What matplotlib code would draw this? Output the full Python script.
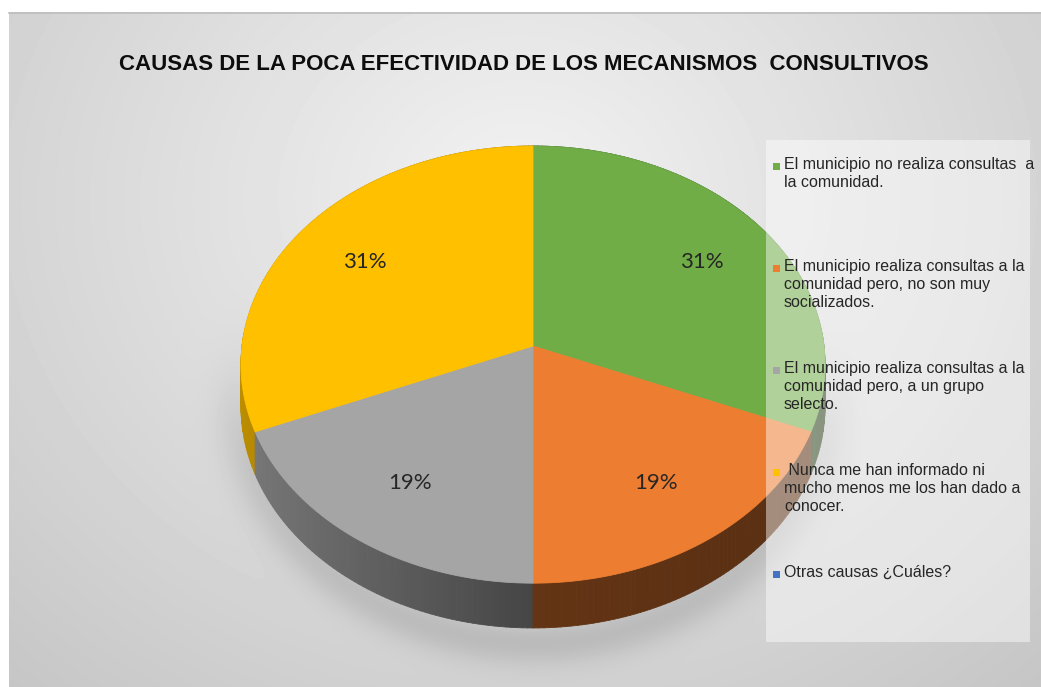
import numpy as np
import matplotlib.pyplot as plt
from matplotlib.collections import PolyCollection
from matplotlib.patches import Rectangle, Polygon
from matplotlib.colors import to_rgb

W, H = 1041, 687

# datos del grafico
titulo = "CAUSAS DE LA POCA EFECTIVIDAD DE LOS MECANISMOS  CONSULTIVOS"
categorias = [
    "El municipio no realiza consultas  a\nla comunidad.",
    "El municipio realiza consultas a la\ncomunidad pero, no son muy\nsocializados.",
    "El municipio realiza consultas a la\ncomunidad pero, a un grupo\nselecto.",
    " Nunca me han informado ni\nmucho menos me los han dado a\nconocer.",
    "Otras causas \u00bfCu\u00e1les?",
]
cantidades = [5, 3, 3, 5, 0]
colores = ["#70ad47", "#ed7d31", "#a5a5a5", "#ffc000", "#4472c4"]

# parametros de la vista en perspectiva
cx, cy = 533, 346
kx, ky = 291, 217
a = 0.085
prof = 41


def proyectar(x, y, h=0.0):
    x = np.asarray(x, dtype=float)
    z = -np.asarray(y, dtype=float)
    w = 1 - a * z
    return cx + kx * x / w, cy + (ky * z + h) / w


fig = plt.figure(figsize=(W / 100, H / 100), dpi=100)
ax = fig.add_axes([0, 0, 1, 1])
ax.set_xlim(0, W)
ax.set_ylim(H, 0)
ax.axis("off")

# fondo con degradado radial y sombra suave (solo abajo del pastel)
yy, xx = np.mgrid[12:H, 9:W]
d = np.hypot((xx - 520) / 700, (yy - 200) / 600)
fondo = 0.95 - 0.16 * d
rho = np.hypot((xx - 533) / 295, (yy - 380) / 262)
peso = 1 / (1 + np.exp(-(yy - 400) / 30))
fondo -= 0.10 * peso * np.exp(-((rho - 1.0) / 0.09) ** 2)
fondo = np.clip(fondo, 0, 1)
ax.imshow(fondo, cmap="gray", vmin=0, vmax=1, extent=(9, W, H, 12),
          aspect="auto", zorder=0, interpolation="bilinear")
ax.plot([9, W], [12.5, 12.5], color="#bdbdbd", lw=1.2, zorder=1)

# pastel con la funcion de matplotlib (eje auxiliar)
aux = fig.add_axes([0, 0, 0.05, 0.05])
cunas, _, autotextos = aux.pie(
    cantidades, startangle=90, counterclock=False,
    autopct=lambda p: f"{p:.0f}%" if p > 0 else "", pctdistance=0.72)
info = [(c.theta1, c.theta2) for c in cunas]
etiquetas = [(t.get_position(), t.get_text()) for t in autotextos]
aux.remove()

# lados del cilindro
quads, fcols, zs = [], [], []
for (t1, t2), col in zip(info, colores):
    if t2 - t1 <= 0:
        continue
    th = np.radians(np.linspace(t1, t2, int(t2 - t1) + 2))
    x, y = np.cos(th), np.sin(th)
    X0, Y0 = proyectar(x, y)
    X1, Y1 = proyectar(x, y, prof)
    rgb = np.array(to_rgb(col))
    for i in range(len(th) - 1):
        xm = (x[i] + x[i + 1]) / 2
        ym = (y[i] + y[i + 1]) / 2
        f = 0.42 + 0.32 * max(0, -xm) - 0.05 * max(0, xm)
        quads.append([(X0[i], Y0[i]), (X0[i + 1], Y0[i + 1]),
                      (X1[i + 1], Y1[i + 1]), (X1[i], Y1[i])])
        fcols.append(np.clip(rgb * f, 0, 1))
        zs.append(-ym)
orden = np.argsort(zs)
pc = PolyCollection([quads[i] for i in orden],
                    facecolors=[fcols[i] for i in orden],
                    edgecolors=[fcols[i] for i in orden], linewidths=0.6, zorder=2)
ax.add_collection(pc)

# cara superior
for (t1, t2), col in zip(info, colores):
    if t2 - t1 <= 0:
        continue
    th = np.radians(np.linspace(t1, t2, int(t2 - t1) + 2))
    X, Y = proyectar(np.cos(th), np.sin(th))
    X0, Y0 = proyectar(0, 0)
    pts = np.column_stack([np.r_[X0, X], np.r_[Y0, Y]])
    ax.add_patch(Polygon(pts, closed=True, facecolor=col, edgecolor=col,
                         lw=0.6, zorder=3))

# porcentajes
for (px, py), txt in etiquetas:
    if not txt:
        continue
    X, Y = proyectar(px, py)
    ax.text(X, Y, txt, ha="center", va="center", fontsize=16,
            family="Lato", color="#262626", zorder=5)

# titulo
ax.text(524, 65, titulo, ha="center", va="center", fontsize=16,
        fontweight="bold", family="Liberation Sans", color="#0d0d0d", zorder=5)

# leyenda
ax.add_patch(Rectangle((766, 140), 264, 502, facecolor="white", alpha=0.45,
                       edgecolor="none", zorder=4))
for i, (lab, col) in enumerate(zip(categorias, colores)):
    yl = 166 + 102 * i
    ax.add_patch(Rectangle((773, yl - 3.5), 7, 7, facecolor=col,
                           edgecolor="none", zorder=5))
    ax.text(784, yl - 9, lab, ha="left", va="top", fontsize=11.5,
            family="Liberation Sans", color="#262626", linespacing=1.25,
            zorder=5)

fig.savefig("out.png", dpi=100)
